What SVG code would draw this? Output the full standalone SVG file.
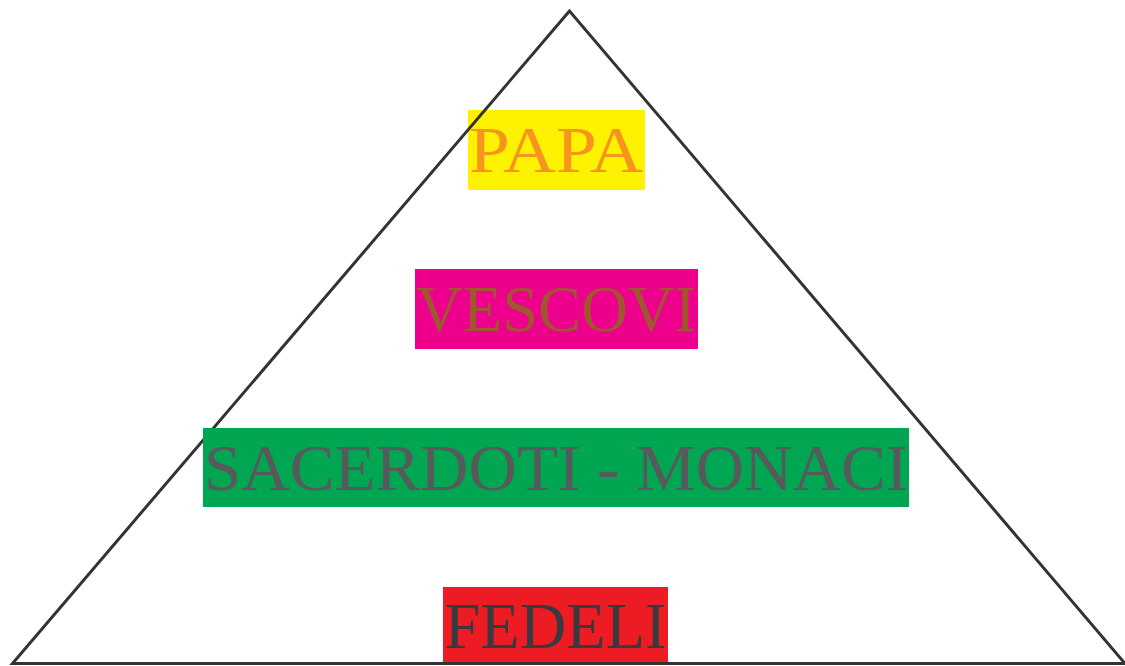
<svg xmlns="http://www.w3.org/2000/svg" width="1125" height="666" viewBox="0 0 1125 666">
<style>
.lbl{font-family:"Liberation Serif","DejaVu Serif",serif;font-size:66px;text-anchor:middle}
.tri{fill:none;stroke:#333333;stroke-width:3;stroke-linejoin:miter}
</style>
<rect width="1125" height="666" fill="#ffffff"/>
<g id="papa">
<rect x="468" y="110" width="177" height="80" fill="#FFF200"/>
<text class="lbl" x="556" y="172" fill="#F7941D" textLength="174" lengthAdjust="spacingAndGlyphs">PAPA</text>
</g>
<g id="connectors">
<polygon class="tri" points="569.5,11 12.5,663.5 1125,663.5"/>
</g>
<g id="vescovi">
<rect x="415" y="269" width="283" height="80" fill="#EC008C"/>
<text class="lbl" x="556" y="331" fill="#A0562E" textLength="280" lengthAdjust="spacingAndGlyphs">VESCOVI</text>
</g>
<g id="sacerdoti">
<rect x="203" y="428" width="706" height="79" fill="#00A651"/>
<text class="lbl" x="556" y="490" fill="#58595B" textLength="704" lengthAdjust="spacingAndGlyphs">SACERDOTI - MONACI</text>
</g>
<g id="fedeli">
<rect x="443" y="587" width="225" height="76" fill="#ED1C24"/>
<text class="lbl" x="555.5" y="648" fill="#3A3A3E" textLength="222" lengthAdjust="spacingAndGlyphs">FEDELI</text>
</g>
<line x1="12" y1="663.5" x2="1125" y2="663.5" stroke="#333333" stroke-width="3"/>
</svg>
